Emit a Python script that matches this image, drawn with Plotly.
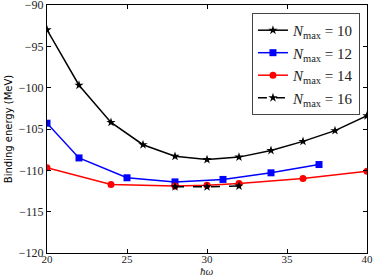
import plotly.graph_objects as go

x10 = [20, 22, 24, 26, 28, 30, 32, 34, 36, 38, 40]
y10 = [-93.0, -99.7, -104.2, -106.9, -108.3, -108.7, -108.4, -107.6, -106.5, -105.2, -103.4]
x12 = [20, 22, 25, 28, 31, 34, 37]
y12 = [-104.3, -108.5, -110.9, -111.4, -111.1, -110.3, -109.3]
x14 = [20, 24, 28, 30, 32, 36, 40]
y14 = [-109.7, -111.7, -111.9, -111.8, -111.6, -111.0, -110.1]
x16 = [28, 30, 32]
y16 = [-112.0, -112.0, -111.9]
labels = ["10", "12", "14", "16"]

serif = "Liberation Serif"
fig = go.Figure()
fig.add_trace(go.Scatter(x=x10, y=y10, mode="lines+markers", name=f"<i>N</i><sub>max</sub> = {labels[0]}",
                         line=dict(color="black", width=1.5), marker=dict(symbol="star", size=7, color="black")))
fig.add_trace(go.Scatter(x=x12, y=y12, mode="lines+markers", name=f"<i>N</i><sub>max</sub> = {labels[1]}",
                         line=dict(color="#0000ff", width=1.5), marker=dict(symbol="square", size=7, color="#0000ff")))
fig.add_trace(go.Scatter(x=x14, y=y14, mode="lines+markers", name=f"<i>N</i><sub>max</sub> = {labels[2]}",
                         line=dict(color="#ff0000", width=1.5), marker=dict(symbol="circle", size=7, color="#ff0000")))
fig.add_trace(go.Scatter(x=x16, y=y16, mode="lines+markers", name=f"<i>N</i><sub>max</sub> = {labels[3]}",
                         line=dict(color="black", width=1.5, dash="dash"), marker=dict(symbol="star", size=7, color="black")))

axis_common = dict(showline=True, mirror="allticks", linecolor="black", linewidth=1,
                   ticks="inside", ticklen=4, tickcolor="black", showgrid=False, zeroline=False,
                   ticklabeloverflow="allow", automargin=False,
                   tickfont=dict(family=serif, size=12, color="#222"))
fig.update_xaxes(range=[20, 40], tickvals=[20, 25, 30, 35, 40], **axis_common)
fig.update_xaxes(tickfont=dict(size=11), ticklabelstandoff=-4)
fig.update_yaxes(range=[-120, -90], tickvals=[-120, -115, -110, -105, -100, -95, -90],
                 title=dict(text="Binding energy (MeV)", font=dict(family="DejaVu Sans", size=10, color="black"), standoff=4),
                 **axis_common)
fig.add_annotation(text="<i>ħω</i>", xref="paper", yref="paper", x=0.5, y=0, yshift=-26,
                   xanchor="center", yanchor="bottom", showarrow=False,
                   font=dict(family=serif, size=11, color="#222"))
fig.update_layout(width=374, height=278, margin=dict(l=47, r=7, t=5, b=25, autoexpand=False),
                  paper_bgcolor="white", plot_bgcolor="white", showlegend=True,
                  legend=dict(x=0.978, y=0.968, xanchor="right", yanchor="top",
                              bordercolor="#444", borderwidth=1, bgcolor="white",
                              font=dict(family=serif, size=15, color="#222"), tracegroupgap=0))
fig.write_html("out.html", config={"displayModeBar": False},
               post_script="document.body.style.margin='0';document.body.style.overflow='hidden';")
